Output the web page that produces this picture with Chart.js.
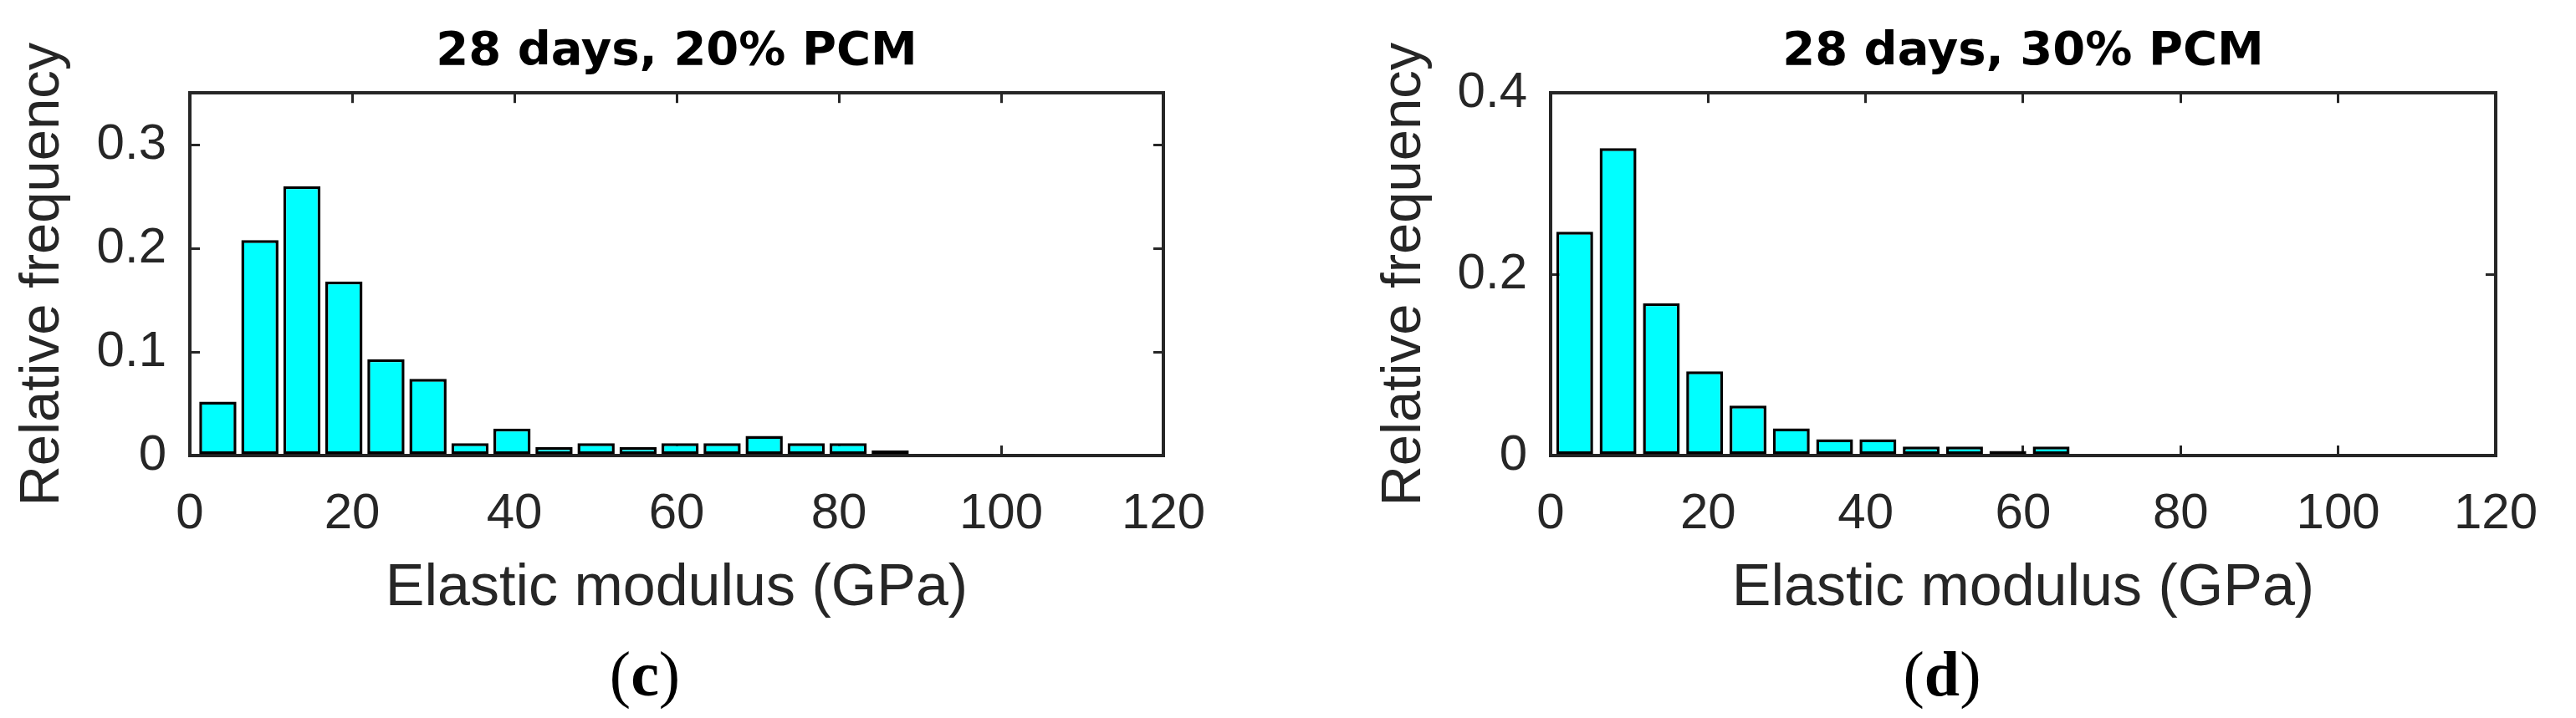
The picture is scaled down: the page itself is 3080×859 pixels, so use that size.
<!DOCTYPE html>
<html>
<head>
<meta charset="utf-8">
<script src="https://cdn.jsdelivr.net/npm/chart.js@4.4.1/dist/chart.umd.min.js"></script>
<style>
  html, body { margin: 0; padding: 0; background: #fff; }
  #wrap { position: relative; width: 3080px; height: 859px; overflow: hidden; background: #fff; }
  .panel { position: absolute; top: 0; width: 1540px; height: 859px; }
  .tag { position: absolute; top: 768px; font-family: 'Liberation Serif', 'Times New Roman', serif;
         font-size: 76px; line-height: 76px; color: #000; white-space: nowrap; transform: translateX(-50%); }
</style>
</head>
<body>
<div id="wrap">
  <div class="panel" style="left:0"><canvas id="c1" width="1540" height="859"></canvas></div>
  <div class="panel" style="left:1540px"><canvas id="c2" width="1540" height="859"></canvas></div>
  <div class="tag" style="left:771px">(<b>c</b>)</div>
  <div class="tag" style="left:2322px">(<b>d</b>)</div>
</div>
<script>
// ---- data ----
const titleC = '28 days, 20% PCM';
const titleD = '28 days, 30% PCM';
const xAxisTitle = 'Elastic modulus (GPa)';
const yAxisTitle = 'Relative frequency';

// bin centres (GPa)
const binsC = [3.45, 8.63, 13.81, 18.99, 24.17, 29.35, 34.53, 39.71, 44.89, 50.07,
               55.25, 60.43, 65.61, 70.79, 75.97, 81.15, 86.33, 91.51, 96.69, 101.87];
const freqC = [0.052, 0.208, 0.260, 0.168, 0.093, 0.074, 0.012, 0.026, 0.008, 0.012,
               0.008, 0.012, 0.012, 0.019, 0.012, 0.012, 0.005, 0.001, 0.001, 0.001];

const binsD = [3.06, 8.56, 14.06, 19.56, 25.06, 30.56, 36.06, 41.56, 47.06, 52.56, 58.06, 63.56];
const freqD = [0.247, 0.339, 0.168, 0.093, 0.055, 0.030, 0.018, 0.018, 0.010, 0.010, 0.005, 0.010];

const xTicks = [0, 20, 40, 60, 80, 100, 120];
const xTickLabels = ['0', '20', '40', '60', '80', '100', '120'];
const xMin = 0, xMax = 120;

const yTicksC = [0, 0.1, 0.2, 0.3];
const yTickLabelsC = ['0', '0.1', '0.2', '0.3'];
const yMaxC = 0.35;

const yTicksD = [0, 0.2, 0.4];
const yTickLabelsD = ['0', '0.2', '0.4'];
const yMaxD = 0.4;

// ---- styling ----
const AX = '#262626';
Chart.defaults.font.family = "'Liberation Sans', Arial, Helvetica, sans-serif";
Chart.defaults.color = AX;

function tickGrid() {
  return { display: true, drawOnChartArea: false, drawTicks: true, tickLength: -12,
           color: AX, lineWidth: 3, offset: false };
}
function axBorder() { return { display: true, color: AX, width: 4 }; }

function makePanel(id, title, bins, freq, yMax, yTicks, yLabels, plotLeft, plotRight, padLeft, barPct) {
  const W = 1540;
  const setX = s => { s.ticks = xTicks.map(v => ({ value: v })); };
  const setY = s => { s.ticks = yTicks.map(v => ({ value: v })); };
  new Chart(document.getElementById(id), {
    type: 'bar',
    data: {
      datasets: [{
        data: bins.map((x, i) => ({ x: x, y: freq[i] })),
        backgroundColor: '#00FFFF',
        borderColor: '#000000',
        borderWidth: 3.5,
        borderSkipped: false,
        categoryPercentage: 1,
        barPercentage: barPct
      }]
    },
    options: {
      responsive: false,
      devicePixelRatio: 1,
      animation: false,
      events: [],
      layout: { padding: { left: padLeft, right: W - plotRight, top: 0, bottom: 111 } },
      plugins: {
        legend: { display: false },
        tooltip: { enabled: false },
        title: {
          display: true, text: title, fullSize: false, color: '#000',
          font: { family: "'DejaVu Sans', sans-serif", weight: 'bold', size: 56, lineHeight: 1.2 },
          padding: { top: 29, bottom: 15 }
        }
      },
      scales: {
        x: {
          type: 'linear', position: 'bottom', min: xMin, max: xMax, offset: false,
          grid: tickGrid(), border: axBorder(),
          afterBuildTicks: setX,
          ticks: { autoSkip: false, maxRotation: 0, minRotation: 0, padding: 46, color: AX,
                   font: { size: 60 }, callback: (v, i) => xTickLabels[i] },
          title: { display: true, text: xAxisTitle, color: AX, font: { size: 70 },
                   padding: { top: 0, bottom: 1 } },
          afterFit: s => { s.height = 203; }
        },
        x2: {
          type: 'linear', position: 'top', min: xMin, max: xMax, offset: false,
          grid: tickGrid(), border: axBorder(),
          afterBuildTicks: setX,
          ticks: { display: false },
          afterFit: s => { s.height = 0; }
        },
        y: {
          type: 'linear', position: 'left', min: 0, max: yMax,
          grid: tickGrid(), border: axBorder(),
          afterBuildTicks: setY,
          ticks: { padding: 40, color: AX, font: { size: 60 }, callback: (v, i) => yLabels[i] },
          title: { display: true, text: yAxisTitle, color: AX, font: { size: 67 },
                   padding: { top: 11.6, bottom: 0 } },
          afterFit: s => { s.width = plotLeft - padLeft; }
        },
        y2: {
          type: 'linear', position: 'right', min: 0, max: yMax,
          grid: tickGrid(), border: axBorder(),
          afterBuildTicks: setY,
          ticks: { display: false },
          afterFit: s => { s.width = 0; }
        }
      }
    }
  });
}

makePanel('c1', titleC, binsC, freqC, yMaxC, yTicksC, yTickLabelsC, 227, 1391, 0, 0.885);
makePanel('c2', titleD, binsD, freqD, yMaxD, yTicksD, yTickLabelsD, 314, 1478, 88, 0.85);
</script>
</body>
</html>
